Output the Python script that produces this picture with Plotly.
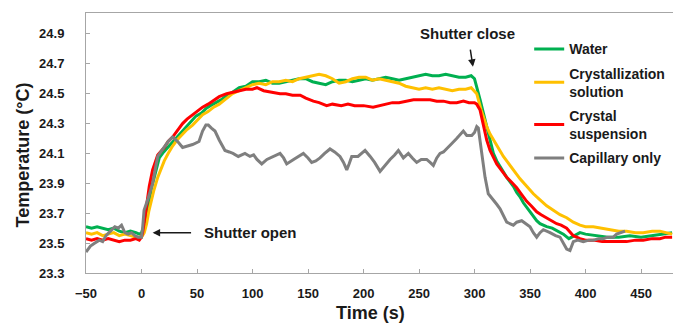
import plotly.graph_objects as go

# ---------------- data ----------------
water_t = [-50,-45,-40,-35,-30,-25,-20,-15,-10,-5,-2,0,2.5,5,7,9,11.5,14,16,20,23.6,27,31,35,40,45,49,54,58,62,67,72,77,82,88,94,100,106,112,118,124,130,136,142,148,154,160,166,172,178,184,190,196,202,208,214,220,226,232,238,244,250,256,262,268,274,280,286,292,297,300,302,305,308,311,314,317,320,323,326,329,332,335,338,341,344,347,350,353,356,359,362,365,370,375,380,385,390,395,400,410,420,430,440,450,460,470,478]
water_v = [23.61,23.60,23.61,23.60,23.59,23.60,23.58,23.57,23.58,23.57,23.56,23.57,23.62,23.70,23.79,23.87,23.94,24.01,24.07,24.11,24.14,24.17,24.20,24.24,24.28,24.32,24.35,24.37,24.40,24.42,24.44,24.46,24.49,24.51,24.54,24.55,24.58,24.58,24.59,24.57,24.57,24.58,24.59,24.60,24.60,24.58,24.57,24.56,24.58,24.59,24.59,24.58,24.59,24.60,24.59,24.60,24.61,24.60,24.59,24.60,24.61,24.62,24.63,24.62,24.62,24.63,24.62,24.61,24.61,24.62,24.60,24.55,24.46,24.37,24.28,24.19,24.10,24.05,24.01,23.97,23.94,23.91,23.88,23.84,23.81,23.77,23.74,23.71,23.68,23.65,23.63,23.62,23.61,23.60,23.58,23.56,23.53,23.55,23.57,23.56,23.55,23.54,23.54,23.55,23.54,23.55,23.56,23.57]

solution_t = [-50,-45,-40,-35,-30,-25,-20,-15,-10,-5,-2,0,2.5,4.6,6.5,8.6,11,14.6,17,20.5,24,28,32,37,41,46,50,55,60,65,70,76.7,82,88,94,100,106,112,118,124,130,136,142,148,154,160,166,172,178,184,190,196,202,208,214,220,226,232,238,244,250,256,262,268,274,280,286,292,297,300,302,306,311,314,317,321,326,330,335,341,347,353,359,365,371,377,383,389,395,400,407,415,422,430,437,445,452,460,467,472,478]
solution_v = [23.57,23.56,23.57,23.55,23.56,23.57,23.55,23.56,23.55,23.54,23.54,23.54,23.57,23.63,23.71,23.78,23.85,23.94,23.99,24.05,24.10,24.15,24.19,24.23,24.26,24.29,24.32,24.36,24.38,24.41,24.43,24.47,24.50,24.52,24.54,24.56,24.57,24.56,24.58,24.58,24.59,24.58,24.60,24.61,24.62,24.63,24.62,24.60,24.57,24.58,24.60,24.61,24.61,24.59,24.60,24.59,24.58,24.57,24.55,24.54,24.53,24.54,24.53,24.54,24.53,24.52,24.53,24.53,24.54,24.52,24.50,24.39,24.28,24.23,24.19,24.14,24.08,24.04,23.99,23.93,23.88,23.83,23.79,23.75,23.72,23.69,23.67,23.64,23.62,23.61,23.61,23.60,23.59,23.58,23.58,23.57,23.57,23.58,23.58,23.57,23.56]

suspension_t = [-50,-45,-40,-35,-30,-25,-20,-15,-10,-5,-2,0,1,4,7,10,14.6,20.5,24,28,32,37,41,46,50,55,60,64,70,76.7,82,88,94,100,104,110,116,124.8,130,136,143,148,154.8,160,166.8,172,180,186,192,200,208.6,214,220,226,232,238,245,252,260,266,272,278,284,290,295,300,302,305,308,311,314,317,320,324,329,333,338,342,347,351,356,360,365,370,374,378,383,389,395,400,407,415,422,430,437,445,452,460,467,472,478]
suspension_v = [23.53,23.52,23.53,23.52,23.53,23.52,23.51,23.52,23.52,23.53,23.52,23.54,23.57,23.72,23.88,23.99,24.09,24.14,24.18,24.21,24.25,24.30,24.33,24.36,24.38,24.41,24.43,24.45,24.48,24.50,24.51,24.52,24.53,24.53,24.54,24.52,24.51,24.50,24.50,24.49,24.49,24.47,24.45,24.44,24.42,24.43,24.42,24.43,24.42,24.42,24.41,24.42,24.43,24.44,24.44,24.45,24.46,24.46,24.46,24.45,24.45,24.44,24.44,24.45,24.44,24.44,24.43,24.39,24.28,24.19,24.12,24.07,24.03,23.99,23.94,23.91,23.87,23.83,23.78,23.75,23.71,23.69,23.67,23.65,23.63,23.62,23.60,23.55,23.53,23.52,23.52,23.51,23.51,23.51,23.51,23.52,23.52,23.53,23.53,23.54,23.54]

capillary_t = [-50,-46,-42,-38,-35,-32,-28,-24,-21,-18,-15,-12,-9,-6,-3,0,1,2.3,6,10,14.6,20.3,24,28,32.6,37,42,46,51.8,55,58,60.2,63,66.2,70,75.2,79,82.4,87.2,90,93.2,97.7,101,104,108.3,113,118.8,124.8,128,130.8,137,142,145.8,150,153.3,157,160.8,165,169.8,174,178.8,182,184.9,187,189.4,195,201.4,206,210,214.9,219,223.9,228,231.4,235.9,240.4,244,247.9,252,256.9,260,262.9,266,268.9,272,276.4,280,283.9,287,289.9,293,297.5,300,302,303.4,305,306.5,309.5,312.4,317,320,323,326,329,335,338,342.5,346,350,353,356,359,362,368,373,377,380,383,386,389,393,398,403,407,412,416,420,425,428,431,435.6]
capillary_v = [23.44,23.48,23.50,23.52,23.51,23.55,23.58,23.61,23.60,23.62,23.57,23.56,23.57,23.55,23.54,23.54,23.60,23.72,23.80,23.90,24.08,24.14,24.18,24.21,24.18,24.14,24.15,24.16,24.18,24.25,24.29,24.29,24.27,24.25,24.19,24.12,24.11,24.10,24.08,24.09,24.10,24.08,24.09,24.06,24.03,24.06,24.08,24.10,24.07,24.03,24.06,24.08,24.10,24.07,24.04,24.05,24.07,24.10,24.13,24.11,24.08,24.04,23.99,24.03,24.08,24.08,24.12,24.08,24.04,23.98,24.02,24.06,24.09,24.12,24.07,24.10,24.07,24.04,24.06,24.06,24.04,24.02,24.07,24.10,24.11,24.14,24.17,24.20,24.23,24.25,24.22,24.22,24.24,24.28,24.27,24.18,24.10,23.94,23.83,23.79,23.76,23.73,23.68,23.64,23.62,23.64,23.65,23.63,23.61,23.57,23.54,23.57,23.59,23.57,23.55,23.54,23.50,23.46,23.45,23.51,23.52,23.51,23.52,23.52,23.53,23.53,23.54,23.54,23.56,23.57,23.58]

series_names = ["Water", "Crystallization<br>solution", "Crystal<br>suspension", "Capillary only"]
series_colors = ["#00B050", "#FFC000", "#FF0000", "#7F7F7F"]
series_data = [(water_t, water_v), (solution_t, solution_v),
               (suspension_t, suspension_v), (capillary_t, capillary_v)]

x_ticks = [-50, 0, 50, 100, 150, 200, 250, 300, 350, 400, 450]
y_ticks = [23.3, 23.5, 23.7, 23.9, 24.1, 24.3, 24.5, 24.7, 24.9]
y_tick_text = ["23.3", "23.5", "23.7", "23.9", "24.1", "24.3", "24.5", "24.7", "24.9"]

FONT = "Liberation Sans, Arial, sans-serif"
TXT = "#1a1a1a"

fig = go.Figure()
for i, ((t, v), name, col) in enumerate(zip(series_data, series_names, series_colors)):
    fig.add_trace(go.Scatter(x=t, y=v, mode="lines", name=name,
                             line=dict(color=col, width=3),
                             legendgroup=f"g{i}"))

axis_col = "#A6A6A6"
fig.update_layout(
    width=673, height=324,
    margin=dict(l=86, r=0, t=13, b=51),
    paper_bgcolor="white", plot_bgcolor="white",
    font=dict(family=FONT, size=13, color=TXT, weight="bold"),
    showlegend=True,
    legend=dict(x=0.755, y=0.922, xanchor="left", yanchor="top",
                font=dict(family=FONT, size=14, color=TXT, weight="bold"),
                tracegroupgap=3, bgcolor="rgba(0,0,0,0)", itemwidth=30),
    xaxis=dict(range=[-50, 478.8], tickvals=x_ticks, ticks="inside", ticklen=4,
               tickcolor=axis_col, showline=True, linecolor=axis_col, linewidth=1,
               mirror=True, showgrid=False, zeroline=False,
               tickfont=dict(family=FONT, size=13, color=TXT, weight="bold"),
               ticklabelstandoff=8),
    yaxis=dict(range=[23.3, 25.04], tickvals=y_ticks, ticktext=y_tick_text,
               ticks="inside", ticklen=4, tickcolor=axis_col, showline=True,
               linecolor=axis_col, linewidth=1, mirror=False, showgrid=False,
               zeroline=False,
               tickfont=dict(family=FONT, size=13, color=TXT, weight="bold"),
               ticklabelstandoff=18),
)

# axis titles
fig.add_annotation(text="Time (s)", xref="paper", yref="paper", x=0.484, y=-0.154,
                   showarrow=False, xanchor="center", yanchor="middle",
                   font=dict(family=FONT, size=18, color=TXT, weight="bold"))
fig.add_annotation(text="Temperature (°C)", xref="paper", yref="paper", x=-0.107, y=0.453,
                   showarrow=False, textangle=-90, xanchor="center", yanchor="middle",
                   font=dict(family=FONT, size=18, color=TXT, weight="bold"))

# shutter annotations
fig.add_annotation(x=10, y=23.57, ax=46, ay=23.57, axref="x", ayref="y",
                   text="", showarrow=True, arrowhead=2, arrowsize=1, arrowwidth=1.5,
                   arrowcolor=TXT)
fig.add_annotation(x=54.5, y=23.57, text="Shutter open", showarrow=False,
                   xanchor="left", yanchor="middle",
                   font=dict(family=FONT, size=15, color=TXT, weight="bold"))
fig.add_annotation(x=298.6, y=24.68, ax=296, ay=24.805, axref="x", ayref="y",
                   text="", showarrow=True, arrowhead=2, arrowsize=1, arrowwidth=1.5,
                   arrowcolor=TXT)
fig.add_annotation(x=293.7, y=24.905, text="Shutter close", showarrow=False,
                   xanchor="center", yanchor="middle",
                   font=dict(family=FONT, size=15, color=TXT, weight="bold"))

fig.write_html("out.html", config={"displayModeBar": False},
               post_script="document.body.style.margin='0';document.body.style.overflow='hidden';")
